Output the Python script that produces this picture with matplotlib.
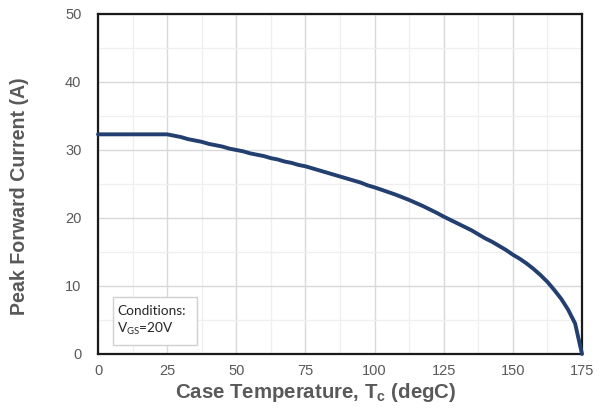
import matplotlib.pyplot as plt
from matplotlib.patches import Rectangle
from matplotlib.ticker import MultipleLocator

plt.rcParams['font.family'] = ['Liberation Sans', 'DejaVu Sans']
plt.rcParams['mathtext.fontset'] = 'custom'
plt.rcParams['mathtext.rm'] = 'Lato'
plt.rcParams['mathtext.bf'] = 'Liberation Sans:bold'

# case temperature (degC) and peak forward current (A)
temp = [0, 25, 27.5, 30, 32.5, 35, 37.5, 40, 42.5, 45, 47.5,
        50, 52.5, 55, 57.5, 60, 62.5, 65, 67.5, 70, 72.5,
        75, 77.5, 80, 82.5, 85, 87.5, 90, 92.5, 95, 97.5,
        100, 102.5, 105, 107.5, 110, 112.5, 115, 117.5, 120, 122.5,
        125, 127.5, 130, 132.5, 135, 137.5, 140, 142.5, 145, 147.5,
        150, 152.5, 155, 157.5, 160, 162.5, 165, 167.5, 170, 172.5, 175]
current = [32.3, 32.3, 32.1, 31.9, 31.6, 31.4, 31.2, 30.9, 30.7, 30.5, 30.2,
           30.0, 29.8, 29.5, 29.3, 29.1, 28.8, 28.6, 28.3, 28.1, 27.8,
           27.6, 27.3, 27.0, 26.7, 26.4, 26.1, 25.8, 25.5, 25.2, 24.8,
           24.5, 24.15, 23.8, 23.45, 23.05, 22.65, 22.2, 21.75, 21.25, 20.75,
           20.2, 19.7, 19.2, 18.7, 18.2, 17.6, 17.0, 16.5, 15.9, 15.3,
           14.6, 14.0, 13.3, 12.5, 11.6, 10.6, 9.4, 8.1, 6.5, 4.5, 0.0]

x_ticks = [0, 25, 50, 75, 100, 125, 150, 175]
y_ticks = [0, 10, 20, 30, 40, 50]

fig = plt.figure(figsize=(6.1, 4.11), dpi=100)
ax = fig.add_axes([0.1607, 0.1387, 0.7934, 0.8273])

ax.plot(temp, current, color='#233f70', lw=2.8, solid_joinstyle='round',
        solid_capstyle='round', zorder=3, clip_on=False)

ax.set_xlim(0, 175)
ax.set_ylim(0, 50)
ax.set_xticks(x_ticks)
ax.set_yticks(y_ticks)
ax.xaxis.set_minor_locator(MultipleLocator(12.5))
ax.yaxis.set_minor_locator(MultipleLocator(5))
ax.grid(which='major', color='#d9d9d9', lw=1.0)
ax.grid(which='minor', color='#efefef', lw=0.9)
ax.set_axisbelow(True)

ax.tick_params(which='both', length=0)
ax.tick_params(axis='x', pad=7, labelsize=10.5, labelcolor='#595959')
ax.tick_params(axis='y', pad=12, labelsize=10.5, labelcolor='#595959')

for s in ax.spines.values():
    s.set_color('#1a1a1a')
    s.set_linewidth(1.6)

ax.set_xlabel(r'Case Temperature, T$_\mathbf{c}$ (degC)', fontsize=14.7,
              fontweight='bold', color='#595959')
ax.set_ylabel('Peak Forward Current (A)', fontsize=14.1,
              fontweight='bold', color='#595959')
ax.xaxis.set_label_coords(0.45, -0.08)
ax.yaxis.set_label_coords(-0.1426, 0.465)

# conditions box
ax.add_patch(Rectangle((0.031, 0.027), 0.173, 0.141, transform=ax.transAxes,
                       facecolor='white', edgecolor='#d0d0d0', lw=1.0, zorder=4))
ax.text(0.04, 0.126, 'Conditions:', transform=ax.transAxes, fontsize=9.8,
        family='Lato', color='#262626', va='center', zorder=5)
ax.text(0.04, 0.075, r'V$_\mathrm{GS}$=20V', transform=ax.transAxes, fontsize=9.8,
        family='Lato', color='#262626', va='center', zorder=5)

fig.savefig('out.png', dpi=100)
